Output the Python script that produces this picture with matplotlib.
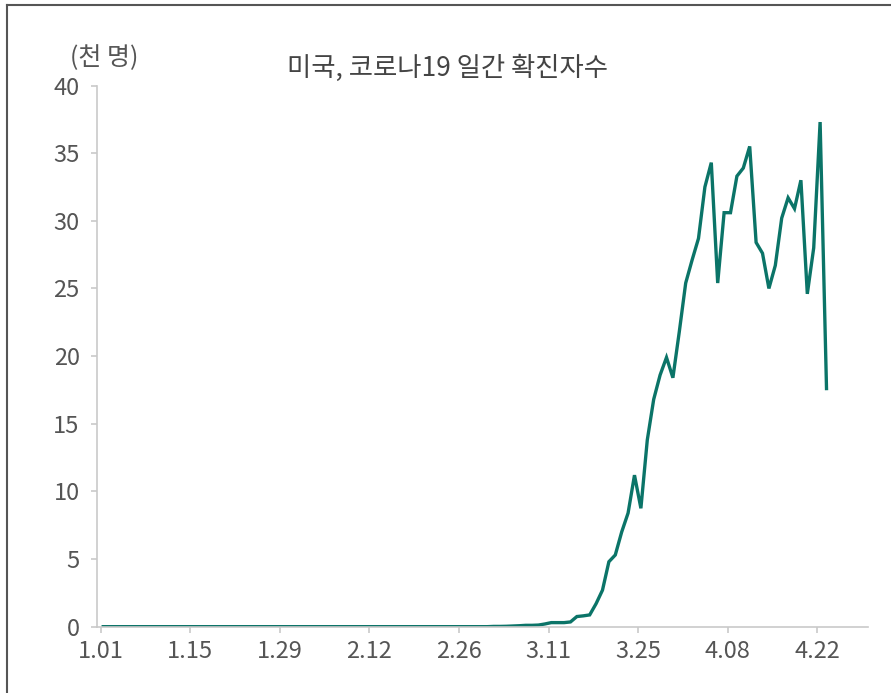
import matplotlib.pyplot as plt
import matplotlib.dates as mdates
from matplotlib.lines import Line2D
import pandas as pd

plt.rcParams['font.family'] = ['Noto Sans CJK KR', 'DejaVu Sans']

# US daily confirmed COVID-19 cases, thousands, from 2020-01-01
jan_cases = [0.0, 0.0, 0.0, 0.0, 0.0, 0.0, 0.0, 0.0, 0.0, 0.0,
             0.0, 0.0, 0.0, 0.0, 0.0, 0.0, 0.0, 0.0, 0.0, 0.0,
             0.0, 0.0, 0.0, 0.0, 0.0, 0.0, 0.0, 0.0, 0.0, 0.0, 0.0]
feb_cases = [0.0, 0.0, 0.0, 0.0, 0.0, 0.0, 0.0, 0.0, 0.0, 0.0,
             0.0, 0.0, 0.0, 0.0, 0.0, 0.0, 0.0, 0.0, 0.0, 0.0,
             0.0, 0.0, 0.0, 0.0, 0.0, 0.0, 0.0, 0.0, 0.0]
mar_cases = [0.0, 0.02, 0.02, 0.03, 0.05, 0.07, 0.1, 0.1, 0.12, 0.2,
             0.3, 0.3, 0.3, 0.35, 0.75, 0.8, 0.87, 1.7, 2.7, 4.8,
             5.3, 7.0, 8.4, 11.2, 8.75, 13.8, 16.8, 18.6, 19.9, 18.4, 21.8]
apr_cases = [25.4, 27.1, 28.7, 32.5, 34.3, 25.4, 30.6, 30.6, 33.3, 33.9,
             35.5, 28.4, 27.6, 25.0, 26.7, 30.2, 31.7, 30.9, 33.0, 24.6,
             28.0, 37.3, 17.6]

cases = jan_cases + feb_cases + mar_cases + apr_cases
# daily values are stamped around midday of each reporting day
dates = pd.date_range('2020-01-01 10:00', periods=len(cases), freq='D')

tick_dates = pd.to_datetime(['2020-01-01', '2020-01-15', '2020-01-29', '2020-02-12',
                             '2020-02-26', '2020-03-11', '2020-03-25', '2020-04-08',
                             '2020-04-22'])
tick_labels = ['1.01', '1.15', '1.29', '2.12', '2.26', '3.11', '3.25', '4.08', '4.22']
y_ticks = [0, 5, 10, 15, 20, 25, 30, 35, 40]

label_color = '#555555'
axis_color = '#c9c9c9'

fig = plt.figure(figsize=(8.91, 6.93), dpi=100)
ax = fig.add_axes([0.1089, 0.0957, 0.8653, 0.7809])

ax.plot(dates, cases, color='#0b7468', linewidth=2.4, solid_joinstyle='miter')

start = mdates.date2num(pd.Timestamp('2020-01-01'))
ax.set_xlim(start - 0.55, start + 119.9)
ax.set_ylim(0, 40)
ax.set_xticks(tick_dates)
ax.set_xticklabels(tick_labels)
ax.set_yticks(y_ticks)

for side in ['top', 'right']:
    ax.spines[side].set_visible(False)
for side in ['left', 'bottom']:
    ax.spines[side].set_color(axis_color)
    ax.spines[side].set_linewidth(1.2)

ax.tick_params(axis='both', colors=axis_color, length=4.5, width=1.2,
               labelcolor=label_color, labelsize=17)
ax.tick_params(axis='y', pad=8)
ax.tick_params(axis='x', pad=5)

fig.text(0.502, 0.902, '미국, 코로나19 일간 확진자수', fontsize=19, color='#444444',
         ha='center', va='center')
fig.text(0.117, 0.916, '(천 명)', fontsize=18, color=label_color,
         ha='center', va='center')

# outer frame on the left and top edges
fig.add_artist(Line2D([0.0079, 0.0079], [0.0, 0.9935], transform=fig.transFigure,
                      color='#555555', linewidth=1.5))
fig.add_artist(Line2D([0.0079, 1.0], [0.9935, 0.9935], transform=fig.transFigure,
                      color='#555555', linewidth=1.5))

fig.savefig('out.png', dpi=100)
